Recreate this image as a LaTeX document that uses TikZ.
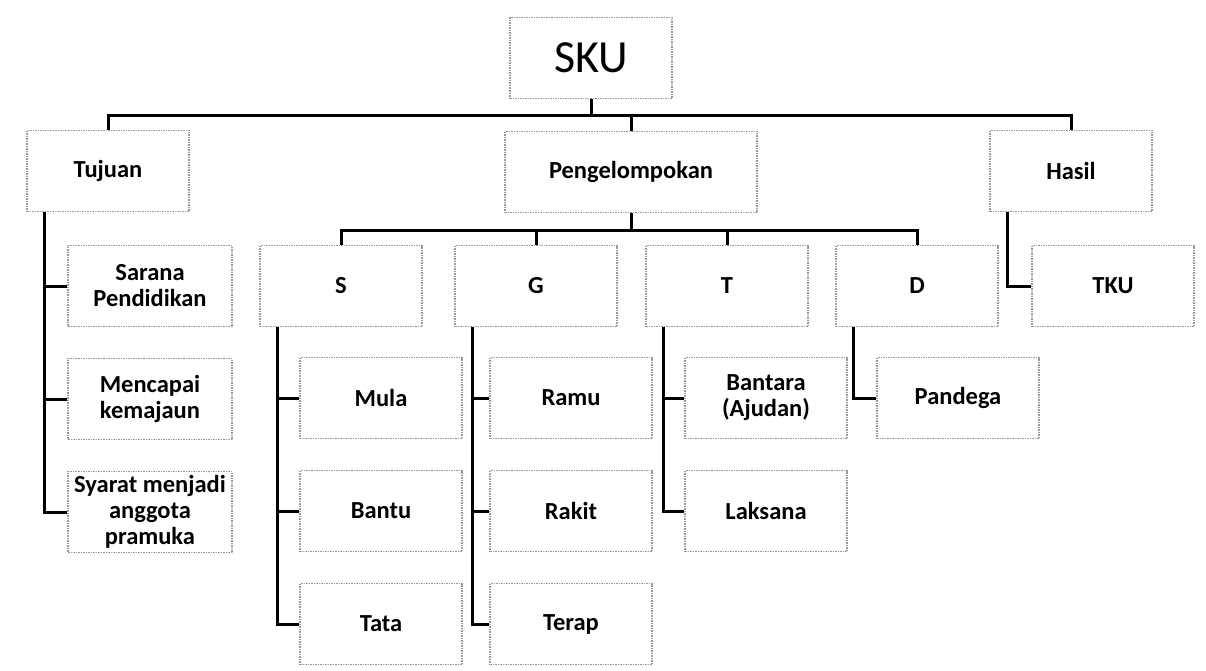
\documentclass[tikz,border=0pt]{standalone}
\usepackage{fontspec}
\setmainfont{Carlito}

\tikzset{
  box/.style={draw=gray!80, densely dotted, line width=1.5pt, fill=white,
    minimum width=162pt, minimum height=81pt, align=center,
    font=\fontsize{24.5}{26}\selectfont\bfseries, inner sep=1pt},
  link/.style={line width=3pt, black, solid}
}

\begin{document}
\begin{tikzpicture}[x=1pt,y=-1pt]
\useasboundingbox (0,0) rectangle (1206,671);
% top level
\node[box, font=\fontsize{46}{50}\selectfont] (sku) at (591,58) {SKU};
\node[box] (tujuan) at (108,171) {Tujuan};
\node[box, minimum width=252pt] (kelompok) at (631,172) {Pengelompokan};
\node[box] (hasil) at (1071,171) {Hasil};
\coordinate (bus1) at (591,116);
\coordinate (bus2) at (631,230);
% second level
\node[box] (s) at (341,286) {S};
\node[box] (g) at (536,286) {G};
\node[box] (t) at (727,286) {T};
\node[box] (d) at (917,286) {D};
\node[box] (tku) at (1113,286) {TKU};
% leaves
\node[box, minimum width=164pt] (sarana) at (150,286) {Sarana\\Pendidikan};
\node[box, minimum width=164pt] (mencapai) at (150,399) {Mencapai\\kemajaun};
\node[box, minimum width=164pt] (syarat) at (150,512) {Syarat menjadi\\anggota\\pramuka};
\node[box] (mula) at (381,398) {Mula};
\node[box] (bantu) at (381,511) {Bantu};
\node[box] (tata) at (381,624) {Tata};
\node[box] (ramu) at (571,398) {Ramu};
\node[box] (rakit) at (571,511) {Rakit};
\node[box] (terap) at (571,624) {Terap};
\node[box] (bantara) at (766,398) {Bantara\\(Ajudan)};
\node[box] (laksana) at (766,511) {Laksana};
\node[box] (pandega) at (958,398) {Pandega};

% connectors
\draw[link] (tujuan.north) -- (tujuan.north |- bus1) -- (hasil.north |- bus1) -- (hasil.north);
\draw[link] (sku.south) -- (bus1);
\draw[link] (kelompok.north) -- (kelompok.north |- bus1);
\draw[link] (s.north) -- (s.north |- bus2) -- (d.north |- bus2) -- (d.north);
\draw[link] (kelompok.south) -- (bus2);
\draw[link] (g.north) -- (g.north |- bus2);
\draw[link] (t.north) -- (t.north |- bus2);
\foreach \p/\c in {tujuan/sarana, tujuan/mencapai, tujuan/syarat,
                   s/mula, s/bantu, s/tata, g/ramu, g/rakit, g/terap,
                   t/bantara, t/laksana, d/pandega, hasil/tku}
  \draw[link] ([xshift=18pt]\p.south west) |- (\c.west);
\end{tikzpicture}
\end{document}
